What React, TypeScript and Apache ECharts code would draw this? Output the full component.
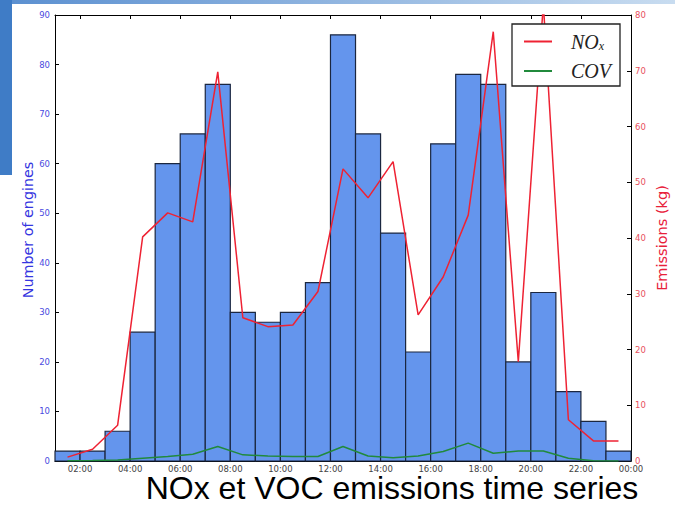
import React, { useEffect, useRef } from "react";
import * as echarts from "echarts";

// Hour bins (start hour of each one-hour bin)
const binStarts = [1, 2, 3, 4, 5, 6, 7, 8, 9, 10, 11, 12, 13, 14, 15, 16, 17, 18, 19, 20, 21, 22, 23];
// Number of engines per hour bin
const engines = [2, 2, 6, 26, 60, 66, 76, 30, 28, 30, 36, 86, 66, 46, 22, 64, 78, 76, 20, 34, 14, 8, 2];
// Emission points at bin centres
const midHours = [1.5, 2.5, 3.5, 4.5, 5.5, 6.5, 7.5, 8.5, 9.5, 10.5, 11.5, 12.5, 13.5, 14.5, 15.5, 16.5, 17.5, 18.5, 19.5, 20.5, 21.5, 22.5, 23.5];
const noxKg = [0.7, 2.1, 6.4, 40.2, 44.5, 42.9, 69.8, 25.7, 24.1, 24.4, 30.4, 52.4, 47.2, 53.7, 26.2, 33.0, 44.1, 77.0, 17.8, 82.0, 7.4, 3.6, 3.6];
const covKg = [0.05, 0.1, 0.2, 0.5, 0.8, 1.2, 2.6, 1.1, 0.9, 0.8, 0.8, 2.6, 0.9, 0.6, 0.9, 1.7, 3.2, 1.4, 1.8, 1.8, 0.5, 0.05, 0.0];
// Tick positions on the time axis (hours)
const timeTicks = [2, 4, 6, 8, 10, 12, 14, 16, 18, 20, 22, 24];

const BLUE_LABEL = "#4a4ae0";
const RED_LABEL = "#e8505e";
const TICK_FONT = "DejaVu Sans";

export default function App() {
  const ref = useRef<HTMLDivElement>(null);

  useEffect(() => {
    if (!ref.current) return;
    const chart = echarts.init(ref.current, undefined, { renderer: "svg" });

    const barData = binStarts.map((s, i) => [s, s + 1, engines[i]]);
    const noxData = midHours.map((h, i) => [h, noxKg[i]]);
    const covData = midHours.map((h, i) => [h, covKg[i]]);

    const fmtTime = (v: number) => {
      const h = Math.round(v) % 24;
      return (h < 10 ? "0" : "") + h + ":00";
    };

    chart.setOption({
      animation: false,
      backgroundColor: "#ffffff",
      grid: { left: 55, right: 44, top: 15, bottom: 45, containLabel: false },
      xAxis: [
        {
          type: "value",
          min: 1,
          max: 24,
          position: "bottom",
          axisLine: { show: true, onZero: false, lineStyle: { color: "#000", width: 1 } },
          axisTick: { show: true, inside: true, length: 4, customValues: timeTicks, lineStyle: { color: "#000" } },
          axisLabel: {
            show: true,
            customValues: timeTicks,
            formatter: fmtTime,
            color: "#444",
            fontSize: 8.5,
            fontFamily: TICK_FONT,
            margin: 3,
          },
          splitLine: { show: false },
        },
        {
          type: "value",
          min: 1,
          max: 24,
          position: "top",
          axisLine: { show: true, onZero: false, lineStyle: { color: "#000", width: 1 } },
          axisTick: { show: true, inside: true, length: 4, customValues: timeTicks, lineStyle: { color: "#000" } },
          axisLabel: { show: false },
          splitLine: { show: false },
        },
      ],
      yAxis: [
        {
          type: "value",
          min: 0,
          max: 90,
          interval: 10,
          position: "left",
          axisLine: { show: true, onZero: false, lineStyle: { color: "#000", width: 1 } },
          axisTick: { show: true, inside: true, length: 4, lineStyle: { color: "#000" } },
          axisLabel: { color: BLUE_LABEL, fontSize: 8.5, fontFamily: TICK_FONT, margin: 5 },
          splitLine: { show: false },
        },
        {
          type: "value",
          min: 0,
          max: 80,
          interval: 10,
          position: "right",
          axisLine: { show: true, onZero: false, lineStyle: { color: "#000", width: 1 } },
          axisTick: { show: true, inside: true, length: 4, lineStyle: { color: "#000" } },
          axisLabel: { color: RED_LABEL, fontSize: 8.5, fontFamily: TICK_FONT, margin: 4 },
          splitLine: { show: false },
        },
      ],
      legend: {
        left: 512,
        top: 24,
        orient: "vertical",
        backgroundColor: "#fff",
        borderColor: "#222",
        borderWidth: 1.3,
        borderRadius: 0,
        padding: [7, 9, 5, 12],
        itemGap: 9,
        itemWidth: 28,
        itemHeight: 2,
        icon: "rect",
        data: ["NOx", "COV"],
        formatter: (name: string) => (name === "NOx" ? "{n|NO}{s|x}" : "{n|COV}"),
        textStyle: {
          padding: [0, 0, 0, 14],
          rich: {
            n: { fontSize: 20, fontStyle: "italic", fontFamily: "Liberation Serif", color: "#222", lineHeight: 20 },
            s: { fontSize: 12, fontStyle: "italic", fontFamily: "Liberation Serif", color: "#222", padding: [9, 0, 0, 0], lineHeight: 20 },
          },
        },
      },
      graphic: [
        {
          type: "rect",
          left: 0,
          top: 0,
          shape: { width: 675, height: 4 },
          style: {
            fill: new echarts.graphic.LinearGradient(0, 0, 1, 0, [
              { offset: 0, color: "#5a8fd0" },
              { offset: 1, color: "#c8dcf0" },
            ]),
          },
          silent: true,
          z: -10,
        },
        {
          type: "rect",
          left: 0,
          top: 0,
          shape: { width: 12, height: 175 },
          style: { fill: "#3f7cc6" },
          silent: true,
          z: -10,
        },
        {
          type: "text",
          x: 28,
          y: 230,
          rotation: Math.PI / 2,
          style: {
            text: "Number of engines",
            fill: "#3535e0",
            fontSize: 14.3,
            fontFamily: TICK_FONT,
            align: "center",
            verticalAlign: "middle",
          },
          silent: true,
        },
        {
          type: "text",
          x: 662,
          y: 238,
          rotation: Math.PI / 2,
          style: {
            text: "Emissions (kg)",
            fill: "#e8203a",
            fontSize: 14.5,
            fontFamily: TICK_FONT,
            align: "center",
            verticalAlign: "middle",
          },
          silent: true,
        },
        {
          type: "text",
          x: 392,
          y: 488,
          style: {
            text: "NOx et VOC emissions time series",
            fill: "#000",
            fontSize: 32,
            fontFamily: "Liberation Sans",
            align: "center",
            verticalAlign: "middle",
          },
          silent: true,
        },
      ],
      series: [
        {
          type: "custom",
          name: "engines",
          xAxisIndex: 0,
          yAxisIndex: 0,
          encode: { x: [0, 1], y: 2 },
          data: barData,
          renderItem: (params: any, api: any) => {
            const p0 = api.coord([api.value(0), api.value(2)]);
            const p1 = api.coord([api.value(1), 0]);
            return {
              type: "rect",
              shape: { x: p0[0], y: p0[1], width: p1[0] - p0[0], height: p1[1] - p0[1] },
              style: { fill: "#6495ed", stroke: "#1b2740", lineWidth: 1.2 },
            };
          },
          z: 1,
        },
        {
          type: "line",
          name: "NOx",
          xAxisIndex: 0,
          yAxisIndex: 1,
          data: noxData,
          showSymbol: false,
          symbol: "none",
          clip: true,
          lineStyle: { color: "#ee2233", width: 1.5 },
          itemStyle: { color: "#ee2233" },
          z: 3,
        },
        {
          type: "line",
          name: "COV",
          xAxisIndex: 0,
          yAxisIndex: 1,
          data: covData,
          showSymbol: false,
          symbol: "none",
          clip: true,
          lineStyle: { color: "#218a3c", width: 1.5 },
          itemStyle: { color: "#218a3c" },
          z: 3,
        },
      ],
    });

    return () => chart.dispose();
  }, []);

  return <div ref={ref} style={{ width: 675, height: 506, position: "absolute", left: 0, top: 0 }} />;
}
